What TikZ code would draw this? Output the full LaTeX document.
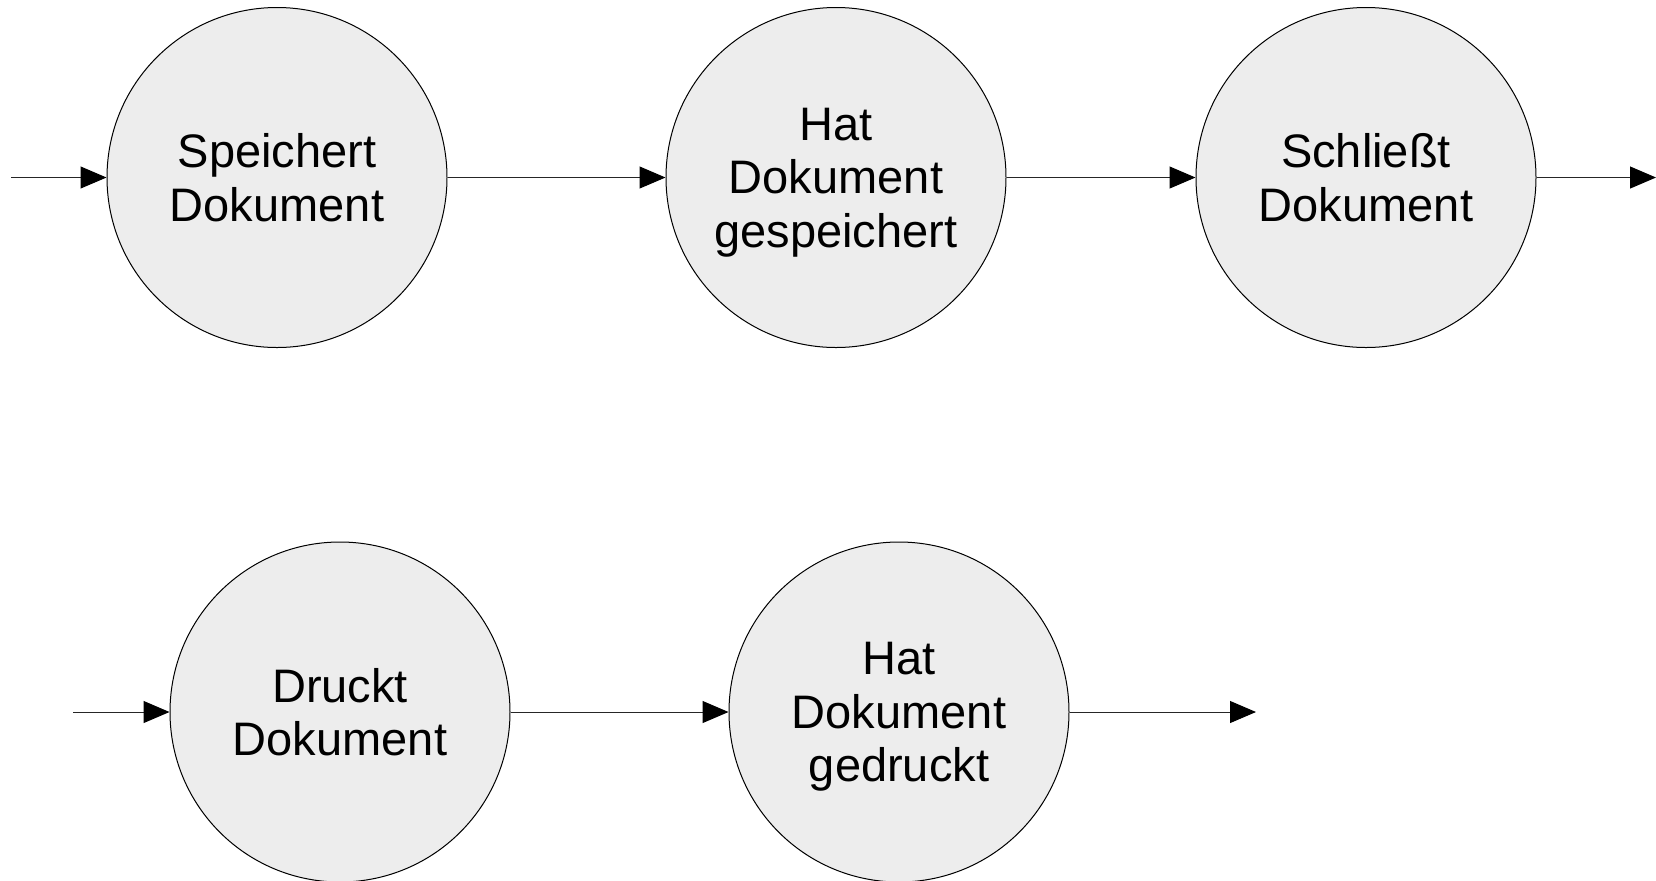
\documentclass[tikz,border=0pt]{standalone}
\usepackage{fontspec}
\setmainfont{Liberation Sans}
\usetikzlibrary{arrows.meta}
\tikzset{
  state/.style={circle, draw=black, line width=0.5pt, fill=gray!14, minimum size=170pt, inner sep=0pt,
    align=center, text depth=0pt, font=\fontsize{23.5pt}{26.8pt}\selectfont},
  flow/.style={draw=black!85, line width=0.5pt, -{Triangle[length=13pt,width=11pt,color=black]}}
}
\begin{document}
\begin{tikzpicture}[x=0.5pt,y=-0.5pt]
\useasboundingbox (0,0) rectangle (1656,880);
\node[state] (s1) at (277,177.5) {Speichert\\Dokument};
\node[state] (s2) at (836,177.5) {Hat\\Dokument\\gespeichert};
\node[state] (s3) at (1366,177.5) {Schließt\\Dokument};
\node[state] (d1) at (340,712) {Druckt\\Dokument};
\node[state] (d2) at (899,712) {Hat\\Dokument\\gedruckt};
\coordinate (in1) at (11,177.5);
\coordinate (out1) at (1656,177.5);
\coordinate (in2) at (73,712);
\coordinate (out2) at (1256,712);
\draw[flow] (in1) -- (s1);
\draw[flow] (s1) -- (s2);
\draw[flow] (s2) -- (s3);
\draw[flow] (s3) -- (out1);
\draw[flow] (in2) -- (d1);
\draw[flow] (d1) -- (d2);
\draw[flow] (d2) -- (out2);
\end{tikzpicture}
\end{document}
